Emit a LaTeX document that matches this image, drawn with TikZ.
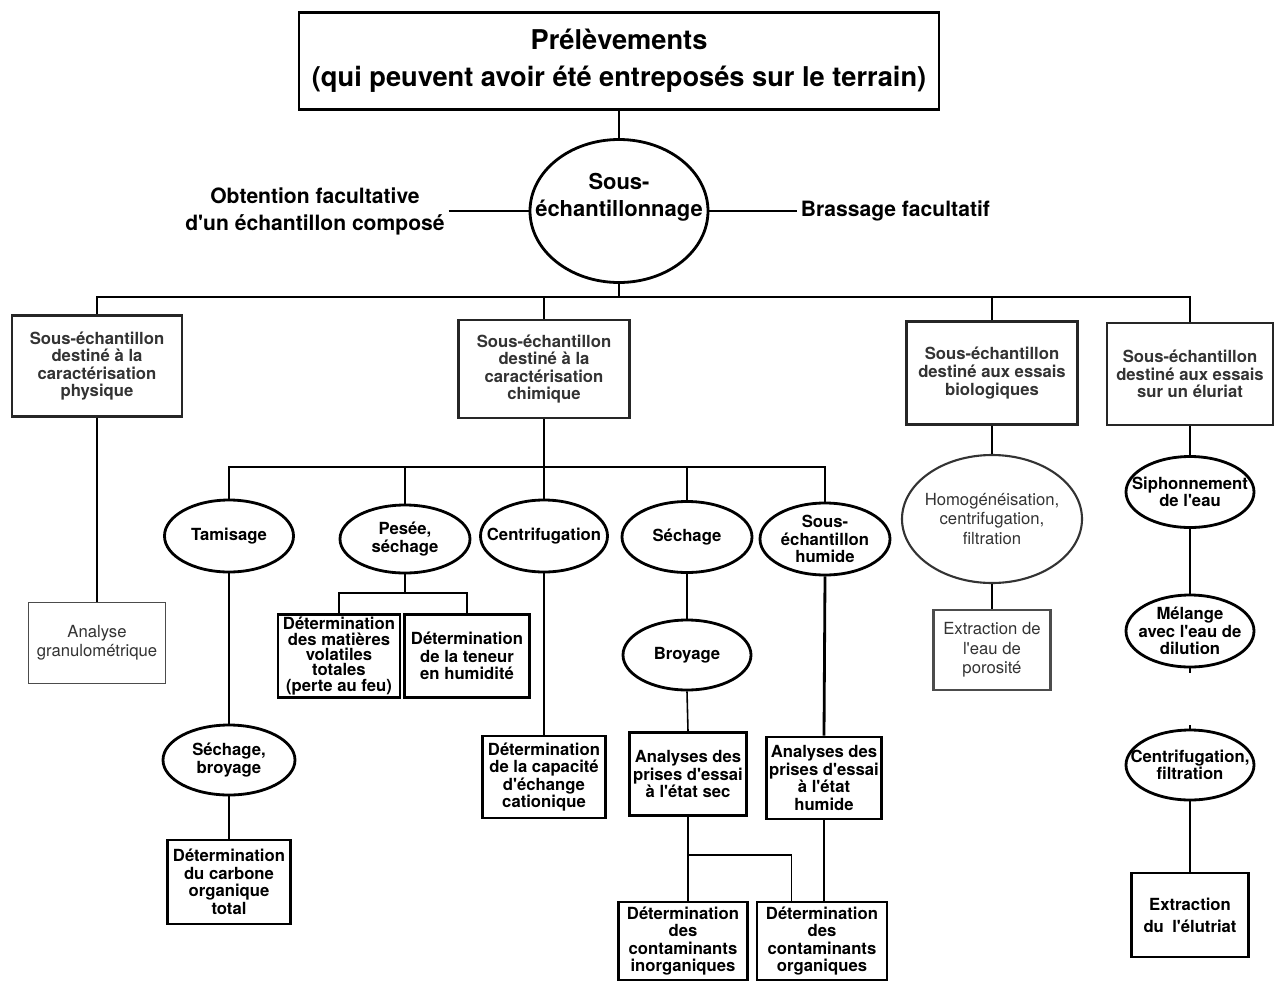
\documentclass[tikz,border=0pt]{standalone}
\usepackage{fontspec}
\setmainfont{TeX Gyre Heros}[Ligatures=TeXOff]
\usetikzlibrary{shapes.geometric,calc}

\tikzset{
  sz/.style 2 args={minimum width=#1*0.02cm, minimum height=#2*0.02cm},
  txt/.style={font=\bfseries\fontsize{9.5}{10}\selectfont, align=center},
  softtxt/.style={font=\fontsize{9.5}{11}\selectfont, align=center, text=black!80, inner sep=0pt},
  intxt/.style={txt, inner sep=0pt},
  box/.style={draw, line width=1.6pt, inner sep=1pt, txt},
  mainbox/.style={draw=black!85, line width=1.3pt, inner sep=1pt, txt, text=black!80},
  softbox/.style={draw=black!70, line width=1pt, inner sep=1pt, align=center,
    font=\fontsize{9.5}{11}\selectfont, text=black!80},
  oval/.style={draw, ellipse, line width=1.6pt, inner sep=0pt},
  conn/.style={line width=0.9pt},
  heavy/.style={line width=1.6pt}
}

\begin{document}
\begin{tikzpicture}[x=0.02cm, y=-0.02cm]
\useasboundingbox (0,0) rectangle (1275,984);

% top of the chart
\node[draw, line width=1.4pt, sz={640}{97}, align=center,
  font=\bfseries\fontsize{15.5}{21}\selectfont] (prel) at (619,61)
  {Prélèvements\\(qui peuvent avoir été entreposés sur le terrain)};
\node[oval, sz={178}{143}, label={[intxt, font=\bfseries\fontsize{12.5}{15.5}\selectfont,
  yshift=0.28cm]center:{Sous-\\échantillonnage}}] (souse) at (619,211) {};
\node[font=\bfseries\fontsize{12}{15.3}\selectfont, align=center, inner sep=2pt]
  (obt) at (315,211) {Obtention facultative\\d'un échantillon composé};
\node[font=\bfseries\fontsize{12}{15.3}\selectfont, anchor=west, inner sep=2pt]
  (brass) at (797,211) {Brassage facultatif};
\draw[conn] (prel.south) -- (souse.north);
\draw[conn] (obt.east) -- (souse.west);
\draw[conn] (souse.east) -- (brass.west);

% four sub-samples
\node[mainbox, sz={170}{101}] (phys) at (97,366)
  {Sous-échantillon\\destiné à la\\caractérisation\\physique};
\node[mainbox, sz={171}{98}] (chim) at (544,369)
  {Sous-échantillon\\destiné à la\\caractérisation\\chimique};
\node[mainbox, sz={171}{103}] (bio) at (992,373)
  {Sous-échantillon\\destiné aux essais\\biologiques};
\node[mainbox, sz={166}{102}] (elu) at (1190,374)
  {Sous-échantillon\\destiné aux essais\\sur un éluriat};
\coordinate (busA) at (619,297);
\draw[conn] (souse.south) -- (busA);
\draw[conn] (phys.north) |- (busA) -| (elu.north);
\draw[conn] (chim.north) -- (chim.north |- busA);
\draw[conn] (bio.north) -- (bio.north |- busA);

% physique
\node[softbox, sz={137}{81}] (gran) at (97,643) {Analyse\\granulométrique};
\draw[conn] (phys.south) -- (gran.north);

% chimique
\node[oval, sz={129}{72}, label={[intxt]center:Tamisage}] (tam) at (229,536) {};
\node[oval, sz={130}{68}, label={[intxt]center:{Pesée,\\séchage}}] (pesee) at (405,539) {};
\node[oval, sz={127}{72}, label={[intxt]center:Centrifugation}] (centr) at (544,536) {};
\node[oval, sz={130}{71}, label={[intxt]center:Séchage}] (sech) at (687,537) {};
\node[oval, sz={130}{72}, label={[intxt]center:{Sous-\\échantillon\\humide}}] (humide) at (825,539) {};
\coordinate (busB) at (544,467);
\draw[conn] (chim.south) -- (centr.north);
\draw[conn] (tam.north) |- (busB) -| (humide.north);
\draw[conn] (pesee.north) -- (pesee.north |- busB);
\draw[conn] (sech.north) -- (sech.north |- busB);

\node[box, sz={122}{83}, font=\bfseries\fontsize{9.5}{8.7}\selectfont] (volat) at (339,656)
  {Détermination\\des matières\\volatiles\\totales\\(perte au feu)};
\node[box, sz={125}{83}] (teneur) at (467,656) {Détermination\\de la teneur\\en humidité};
\coordinate (busP) at (405,593);
\draw[conn] (pesee.south) -- (busP);
\draw[conn] (volat.north) |- (busP) -| (teneur.north);

\node[box, sz={123}{82}] (capac) at (544,777)
  {Détermination\\de la capacité\\d'échange\\cationique};
\draw[heavy] (centr.south) -- (capac.north);

\node[oval, sz={132}{70}, label={[intxt]center:{Séchage,\\broyage}}] (sbroy) at (229,760) {};
\node[box, sz={123}{84}] (carb) at (229,882) {Détermination\\du carbone\\organique\\total};
\draw[heavy] (tam.south) -- (sbroy.north);
\draw[conn] (sbroy.south) -- (carb.north);

\node[oval, sz={128}{70}, label={[intxt]center:Broyage}] (broy) at (687,655) {};
\node[box, sz={117}{83}] (asec) at (688,774) {Analyses des\\prises d'essai\\à l'état sec};
\node[box, sz={115}{82}] (ahum) at (824,778) {Analyses des\\prises d'essai\\à l'état\\humide};
\draw[heavy] (sech.south) -- (broy.north);
\draw[conn] (broy.south) -- (asec.north);
\draw[heavy] (humide.south) -- (ahum.north);

\node[box, sz={129}{78}] (inorg) at (683,941) {Détermination\\des\\contaminants\\inorganiques};
\node[box, sz={130}{78}] (org) at (822,941) {Détermination\\des\\contaminants\\organiques};
\coordinate (busC) at (688,855);
\draw[heavy] (asec.south) -- (asec.south |- inorg.north);
\draw[conn] (busC) -| ($(org.north west)+(36,0)$);
\draw[conn] (ahum.south) -- (ahum.south |- org.north);

% biologiques
\node[oval, draw=black!80, line width=1.2pt, sz={180}{128},
  label={[softtxt]center:{Homogénéisation,\\centrifugation,\\filtration}}] (homog) at (992,519) {};
\node[softbox, line width=1.3pt, sz={117}{80}] (poros) at (992,650)
  {Extraction de\\l'eau de\\porosité};
\draw[conn] (bio.south) -- (homog.north);
\draw[conn] (homog.south) -- (poros.north);

% eluriat
\node[oval, sz={128}{71}, label={[intxt]center:{Siphonnement\\de l'eau}}] (siph) at (1190,492) {};
\node[oval, sz={128}{72}, label={[intxt]center:{Mélange\\avec l'eau de\\dilution}}] (melan) at (1190,631) {};
\node[oval, sz={128}{70}, label={[intxt]center:{Centrifugation,\\filtration}}] (cfil) at (1190,765) {};
\node[box, sz={117}{84}, font=\bfseries\fontsize{9.5}{12.5}\selectfont] (extr) at (1190,915)
  {Extraction\\du\enspace l'élutriat};
\coordinate (melanEnd) at (1190,673);
\coordinate (cfilEnd) at (1190,725);
\draw[conn] (elu.south) -- (siph.north);
\draw[heavy] (siph.south) -- (melan.north);
\draw[conn] (melan.south) -- (melanEnd);
\draw[conn] (cfil.north) -- (cfilEnd);
\draw[conn] (cfil.south) -- (extr.north);
\end{tikzpicture}
\end{document}
